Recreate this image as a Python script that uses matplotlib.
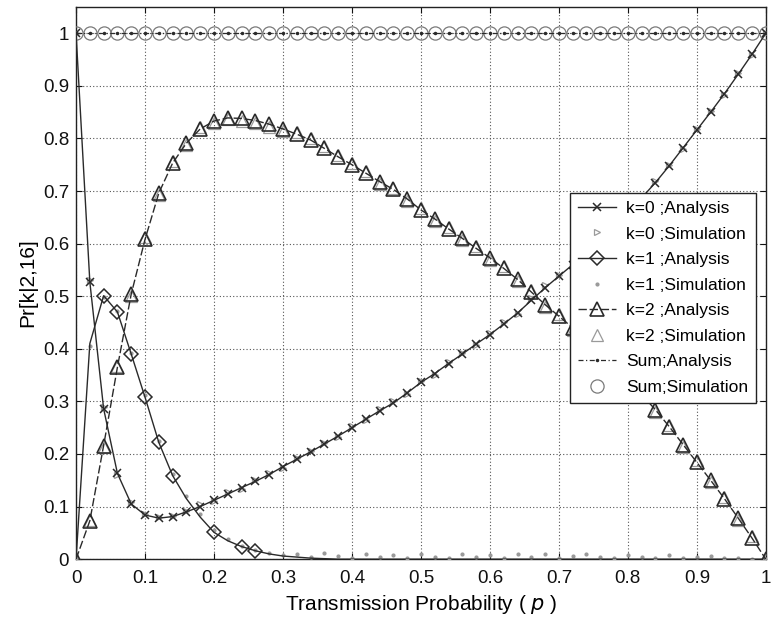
import matplotlib
matplotlib.use("Agg")
import matplotlib.pyplot as plt
from matplotlib.ticker import FuncFormatter

plt.rcParams['font.family'] = ['Liberation Sans', 'DejaVu Sans']

p = [0.00, 0.02, 0.04, 0.06, 0.08, 0.10, 0.12, 0.14, 0.16, 0.18,
     0.20, 0.22, 0.24, 0.26, 0.28, 0.30, 0.32, 0.34, 0.36, 0.38,
     0.40, 0.42, 0.44, 0.46, 0.48, 0.50, 0.52, 0.54, 0.56, 0.58,
     0.60, 0.62, 0.64, 0.66, 0.68, 0.70, 0.72, 0.74, 0.76, 0.78,
     0.80, 0.82, 0.84, 0.86, 0.88, 0.90, 0.92, 0.94, 0.96, 0.98, 1.00]

k0_ana = [1.000, 0.527, 0.286, 0.163, 0.105, 0.084, 0.078, 0.081, 0.090, 0.100,
          0.112, 0.124, 0.136, 0.148, 0.161, 0.176, 0.190, 0.204, 0.219, 0.234,
          0.250, 0.266, 0.282, 0.297, 0.316, 0.336, 0.353, 0.372, 0.390, 0.409,
          0.427, 0.447, 0.468, 0.492, 0.516, 0.538, 0.560, 0.584, 0.608, 0.634,
          0.660, 0.687, 0.716, 0.748, 0.782, 0.816, 0.850, 0.885, 0.922, 0.960, 1.000]
k0_sim = [1.000, 0.530, 0.290, 0.160, 0.108, 0.086, 0.080, 0.083, 0.092, 0.104,
          0.110, 0.128, 0.134, 0.150, 0.164, 0.174, 0.192, 0.206, 0.221, 0.232,
          0.253, 0.264, 0.285, 0.300, 0.314, 0.339, 0.351, 0.375, 0.392, 0.407,
          0.430, 0.450, 0.466, 0.496, 0.522, 0.540, 0.575, 0.586, 0.606, 0.637,
          0.662, 0.684, 0.719, 0.750, 0.780, 0.818, 0.853, 0.882, 0.925, 0.958, 1.000]

k1_ana = [0.000, 0.410, 0.501, 0.470, 0.390, 0.308, 0.222, 0.159, 0.115, 0.080,
          0.051, 0.035, 0.024, 0.016, 0.010, 0.006, 0.004, 0.002, 0.001, 0.000,
          0.000, 0.000, 0.000, 0.000, 0.000, 0.000, 0.000, 0.000, 0.000, 0.000,
          0.000, 0.000, 0.000, 0.000, 0.000, 0.000, 0.000, 0.000, 0.000, 0.000,
          0.000, 0.000, 0.000, 0.000, 0.000, 0.000, 0.000, 0.000, 0.000, 0.000, 0.000]
k1_sim = [0.000, 0.405, 0.498, 0.472, 0.392, 0.312, 0.225, 0.162, 0.120, 0.085,
          0.055, 0.038, 0.026, 0.018, 0.012, 0.008, 0.010, 0.004, 0.012, 0.006,
          0.003, 0.010, 0.004, 0.008, 0.002, 0.009, 0.005, 0.003, 0.010, 0.004,
          0.007, 0.002, 0.009, 0.005, 0.010, 0.003, 0.006, 0.009, 0.004, 0.002,
          0.008, 0.005, 0.003, 0.007, 0.002, 0.004, 0.006, 0.002, 0.003, 0.001, 0.000]
k1_marks = [2, 3, 4, 5, 6, 7, 10, 12, 13]

k2_ana = [0.000, 0.073, 0.216, 0.365, 0.504, 0.608, 0.696, 0.753, 0.791, 0.818,
          0.833, 0.839, 0.838, 0.834, 0.827, 0.818, 0.808, 0.797, 0.781, 0.765,
          0.750, 0.734, 0.718, 0.703, 0.685, 0.664, 0.647, 0.628, 0.610, 0.591,
          0.573, 0.553, 0.532, 0.508, 0.484, 0.462, 0.440, 0.416, 0.392, 0.366,
          0.340, 0.313, 0.284, 0.252, 0.218, 0.184, 0.150, 0.115, 0.078, 0.040, 0.000]
k2_sim = [0.000, 0.075, 0.214, 0.368, 0.500, 0.612, 0.693, 0.758, 0.788, 0.822,
          0.830, 0.836, 0.833, 0.830, 0.822, 0.814, 0.812, 0.800, 0.786, 0.768,
          0.754, 0.738, 0.714, 0.706, 0.681, 0.668, 0.643, 0.632, 0.606, 0.595,
          0.569, 0.557, 0.528, 0.512, 0.480, 0.466, 0.436, 0.420, 0.388, 0.370,
          0.336, 0.317, 0.280, 0.256, 0.214, 0.188, 0.146, 0.119, 0.074, 0.044, 0.000]

sum_ana = [1.000] * 51
sum_sim = [1.000] * 51

xticks = [0, 0.1, 0.2, 0.3, 0.4, 0.5, 0.6, 0.7, 0.8, 0.9, 1]
yticks = [0, 0.1, 0.2, 0.3, 0.4, 0.5, 0.6, 0.7, 0.8, 0.9, 1]

dark = '#2a2a2a'
light = '#9a9a9a'

fig = plt.figure(figsize=(7.72, 6.29), dpi=100)
ax = fig.add_axes([0.0985, 0.111, 0.8935, 0.878])

ax.plot(p, k0_ana, color=dark, lw=1.0, marker='x', ms=6, mew=1.1,
        label='k=0 ;Analysis', zorder=4)
ax.plot(p, k0_sim, color=light, ls='none', marker='>', ms=4, mfc='none',
        mew=0.9, label='k=0 ;Simulation', zorder=3)
ax.plot(p, k1_ana, color=dark, lw=1.0, marker='D', ms=7, mfc='none', mew=1.1,
        markevery=k1_marks, label='k=1 ;Analysis', zorder=4)
ax.plot(p, k1_sim, color=light, ls='none', marker='.', ms=4,
        label='k=1 ;Simulation', zorder=3)
ax.plot(p, k2_ana, color=dark, lw=1.0, ls=(0, (6, 2)), marker='^', ms=10, mfc='none',
        mew=1.2, label='k=2 ;Analysis', zorder=4)
ax.plot(p, k2_sim, color=light, ls='none', marker='^', ms=9, mfc='none',
        mew=0.9, label='k=2 ;Simulation', zorder=3)
ax.plot(p, sum_ana, color=dark, lw=0.9, ls=(0, (4, 2, 1, 2)), marker='.', ms=3,
        label='Sum;Analysis', zorder=4)
ax.plot(p, sum_sim, color='#7a7a7a', ls='none', marker='o', ms=9.5, mfc='none',
        mew=0.9, label='Sum;Simulation', zorder=3)

ax.set_xlim(0, 1)
ax.set_ylim(0, 1.05)
ax.set_xticks(xticks)
ax.set_yticks(yticks)
fmt = FuncFormatter(lambda v, pos: ('%g' % round(v, 2)))
ax.xaxis.set_major_formatter(fmt)
ax.yaxis.set_major_formatter(fmt)
ax.tick_params(direction='in', length=4, width=0.8, top=True, right=True,
               labelsize=13.5, colors='#111111')
ax.tick_params(axis='x', pad=8)
ax.tick_params(axis='y', pad=5)
ax.grid(True, color='#555555', ls=(0, (1, 2)), lw=0.8)
for s in ax.spines.values():
    s.set_color('#222222')
    s.set_linewidth(1.0)

ax.set_xlabel('Transmission Probability ( $\\it{p}$ )', fontsize=15, labelpad=4)
ax.set_ylabel('Pr[k|2,16]', fontsize=15, labelpad=4)

leg = ax.legend(loc='upper right', bbox_to_anchor=(0.986, 0.663), borderaxespad=0,
                fontsize=12.5, labelspacing=0.6, handlelength=2.2, handletextpad=0.6,
                borderpad=0.45, fancybox=False, framealpha=1, edgecolor='#222222')
leg.get_frame().set_linewidth(1.0)

fig.savefig('out.png', dpi=100)
